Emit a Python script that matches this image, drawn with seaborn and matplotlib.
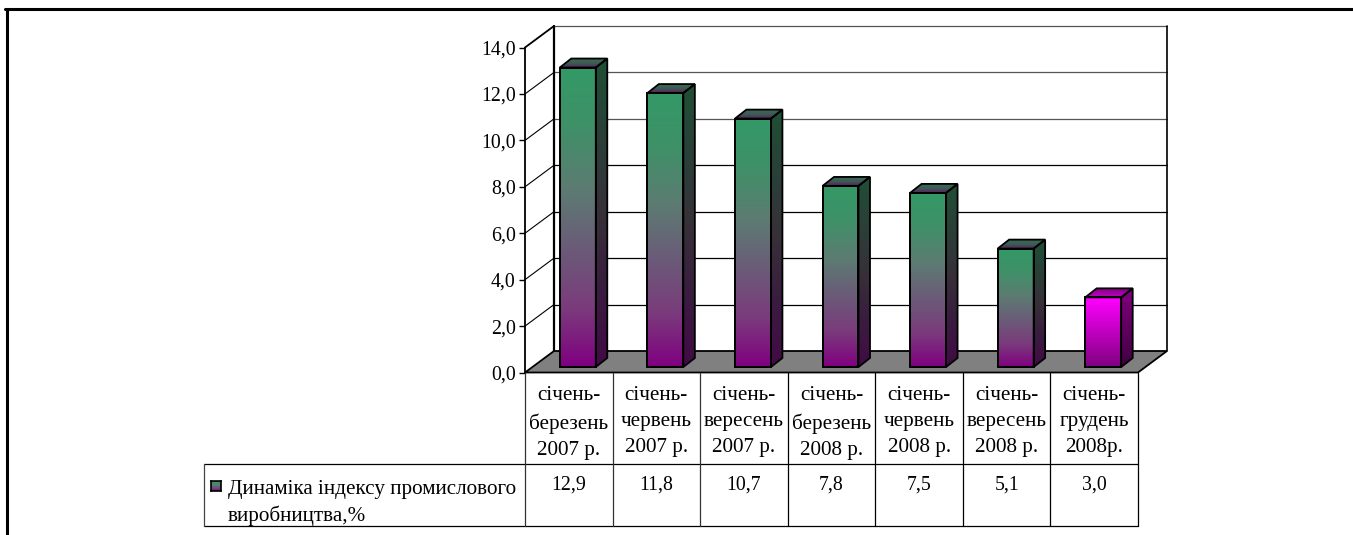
import numpy as np
import pandas as pd
import matplotlib
matplotlib.use("Agg")
import matplotlib.pyplot as plt
import seaborn as sns
from matplotlib.colors import LinearSegmentedColormap as LSC
from matplotlib.lines import Line2D
from matplotlib.patches import Polygon, Rectangle
from matplotlib.transforms import Affine2D, IdentityTransform

categories = ["січень-\nберезень\n2007 р.", "січень-\nчервень\n2007 р.", "січень-\nвересень\n2007 р.",
              "січень-\nберезень\n2008 р.", "січень-\nчервень\n2008 р.", "січень-\nвересень\n2008 р.",
              "січень-\nгрудень\n2008р."]
values = [12.9, 11.8, 10.7, 7.8, 7.5, 5.1, 3.0]
value_labels = ["12,9", "11,8", "10,7", "7,8", "7,5", "5,1", "3,0"]
series_name = "Динаміка індексу промислового\nвиробництва,%"
y_ticks = [0, 2, 4, 6, 8, 10, 12, 14]
y_tick_labels = ["0,0", "2,0", "4,0", "6,0", "8,0", "10,0", "12,0", "14,0"]
special_bar = 6

W, H = 1353, 535
sns.set_theme(style="white")
plt.rcParams["font.family"] = ["Liberation Serif", "DejaVu Serif"]
NUM = 14.3
TXT = 15.2
fig = plt.figure(figsize=(W / 100, H / 100), dpi=100, facecolor="white")
px0, px1, py_top, py_bot = 525.0, 1138.0, 47.5, 372.5
ax = fig.add_axes([px0 / W, 1 - py_bot / H, (px1 - px0) / W, (py_bot - py_top) / H])
df = pd.DataFrame({"cat": categories, "val": values})
sns.barplot(data=df, x="cat", y="val", ax=ax, width=36 / 87.6, color="white", saturation=1,
            edgecolor="black", linewidth=1.3, zorder=6)
ax.set_xlim(-0.5, 6.5)
ax.set_ylim(0, 14)
ax.set_xlabel("")
ax.set_ylabel("")
ax.patch.set_alpha(0)
for s in ("top", "right", "bottom"):
    ax.spines[s].set_visible(False)
ax.spines["left"].set_linewidth(1.3)
ax.spines["left"].set_color("black")
ax.set_yticks(y_ticks, y_tick_labels, fontsize=NUM, color="black")
ax.tick_params(axis="y", left=True, length=4.5, width=1.0, pad=2.2, color="black")
ax.set_xticks(range(7), categories, fontsize=TXT, color="black", linespacing=1.5)
ax.tick_params(axis="x", bottom=False, pad=4)
ax.grid(False)

dx_wall, dy_wall = 29, 21.5
dx_bar, dy_bar = 9.0, 5.5
dx_d, dy_d = 11.5, 9
wall = ax.transData + Affine2D().translate(dx_wall, dy_wall)
bar_t = ax.transData + Affine2D().translate(dx_bar, dy_bar)
px = IdentityTransform()

# back wall, side wall, floor
for t in y_ticks[1:]:
    p0 = ax.transData.transform((-0.5, t))
    p1 = p0 + (dx_wall, dy_wall)
    ax.add_line(Line2D([p0[0], p1[0]], [p0[1], p1[1]], transform=px, color="black",
                       lw=1.3 if t == 14 else 0.8, clip_on=False, zorder=1))
    ax.plot([-0.5, 6.5], [t, t], transform=wall, color="#555555" if t in (10, 12, 14) else "black",
            lw=0.9, clip_on=False, zorder=1)
ax.plot([-0.5, -0.5], [0, 14], transform=wall, color="black", lw=1.6, clip_on=False, zorder=1)
ax.plot([6.5, 6.5], [0, 14], transform=wall, color="black", lw=1.2, clip_on=False, zorder=1)
a = ax.transData.transform((-0.5, 0))
b = ax.transData.transform((6.5, 0))
floor = np.array([a, a + (dx_wall, dy_wall), b + (dx_wall, dy_wall), b])
ax.add_patch(Polygon(floor, closed=True, transform=px, facecolor="#808080", edgecolor="black",
                     lw=1.3, clip_on=False, zorder=2))

# bar faces
stops_front = ["#339966", "#3f9068", "#5c7c72", "#6a5c78", "#7a3c7c", "#800080"]
stops_side = ["#1f4f35", "#2a4038", "#373038", "#3a1c40", "#420a45"]
stops_top = ["#3a6a55", "#3f5a55", "#5a1a60"]
magenta_front = ["#ff00ff", "#800080"]
magenta_side = ["#800080", "#400040"]
magenta_top = ["#800080", "#c000c0"]

def fill(poly, stops, extent):
    cm = LSC.from_list("g", stops)
    g = np.linspace(0, 1, 256)[:, None]
    im = ax.imshow(cm(g), extent=extent, origin="upper", aspect="auto", transform=px, zorder=5,
                   interpolation="bilinear")
    pg = Polygon(poly, closed=True, transform=px, facecolor="none", edgecolor="black", lw=1.3,
                 clip_on=False, zorder=7)
    ax.add_patch(pg)
    im.set_clip_path(pg)

rects = [p for p in list(ax.patches) if isinstance(p, Rectangle)][:len(values)]
for i, r in enumerate(rects):
    r.set_transform(bar_t)
    r.set_clip_on(False)
    r.set_facecolor("none")
    x0, w, h = r.get_x(), r.get_width(), r.get_height()
    bl = np.array(bar_t.transform((x0, 0.0)))
    tr = np.array(bar_t.transform((x0 + w, h)))
    sp = i == special_bar
    f, s, tp = (magenta_front, magenta_side, magenta_top) if sp else (stops_front, stops_side, stops_top)
    fill([(bl[0], bl[1]), (tr[0], bl[1]), (tr[0], tr[1]), (bl[0], tr[1])], f, (bl[0], tr[0], bl[1], tr[1]))
    fill([(tr[0], bl[1]), (tr[0] + dx_d, bl[1] + dy_d), (tr[0] + dx_d, tr[1] + dy_d), (tr[0], tr[1])], s,
         (tr[0], tr[0] + dx_d, bl[1], tr[1] + dy_d))
    fill([(bl[0], tr[1]), (tr[0], tr[1]), (tr[0] + dx_d, tr[1] + dy_d), (bl[0] + dx_d, tr[1] + dy_d)], tp,
         (bl[0], tr[0] + dx_d, tr[1], tr[1] + dy_d))
ax.set_xlim(-0.5, 6.5)
ax.set_ylim(0, 14)
ax.set_aspect("auto")

# data table
def seg(x0, y0, x1, y1, lw=0.9, c="black"):
    fig.add_artist(Line2D([x0 / W, x1 / W], [1 - y0 / H, 1 - y1 / H], color=c, lw=lw))
row1, row2 = 464, 526
seg(204, row1, px1, row1)
seg(204, row2, px1, row2)
seg(204, row1, 204, row2, c="#444444")
for i in range(8):
    x = ax.transData.transform((i - 0.5, 0))[0]
    seg(x, py_bot, x, row2, c="#333333" if i < 3 else "black")
    if i < 7:
        fig.text((x + 43.8) / W, 1 - 485 / H, value_labels[i], ha="center", va="center", fontsize=NUM, color="black")
fig.text(228 / W, 1 - 503 / H, series_name, ha="left", va="center", fontsize=TXT, color="black", linespacing=1.4)
sw = fig.add_axes([210.5 / W, 1 - 491 / H, 10 / W, 10 / H])
sw.imshow(LSC.from_list("l", stops_front)(np.linspace(0, 1, 32)[:, None]), aspect="auto")
sw.set_xticks([])
sw.set_yticks([])
for s in sw.spines.values():
    s.set_color("black")
    s.set_linewidth(1.2)

# outer frame
seg(5, 9, W, 9, lw=2.2)
seg(6.5, 9, 6.5, H, lw=2.2)

fig.savefig("out.png", dpi=100)
